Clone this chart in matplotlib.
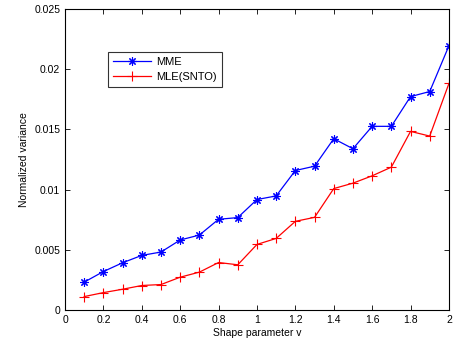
import numpy as np
import matplotlib
matplotlib.use("Agg")
import matplotlib.pyplot as plt

plt.rcParams['font.family'] = ['Liberation Sans', 'DejaVu Sans']

shape_v = [0.1, 0.2, 0.3, 0.4, 0.5, 0.6, 0.7, 0.8, 0.9, 1.0,
           1.1, 1.2, 1.3, 1.4, 1.5, 1.6, 1.7, 1.8, 1.9, 2.0]
mme = [0.00231, 0.00319, 0.00392, 0.00453, 0.00481, 0.00581, 0.00622, 0.00753, 0.00767, 0.00917,
       0.00947, 0.01158, 0.01194, 0.01422, 0.01339, 0.01525, 0.01525, 0.01772, 0.01814, 0.02194]
mle = [0.00111, 0.00144, 0.00172, 0.00203, 0.00211, 0.00272, 0.00314, 0.00394, 0.00375, 0.00544,
       0.00594, 0.00736, 0.00769, 0.01008, 0.01053, 0.01114, 0.01186, 0.01483, 0.01444, 0.01881]
xticks = [0, 0.2, 0.4, 0.6, 0.8, 1, 1.2, 1.4, 1.6, 1.8, 2]
xticklabels = ['0', '0.2', '0.4', '0.6', '0.8', '1', '1.2', '1.4', '1.6', '1.8', '2']
yticks = [0, 0.005, 0.01, 0.015, 0.02, 0.025]
yticklabels = ['0', '0.005', '0.01', '0.015', '0.02', '0.025']

fig = plt.figure(figsize=(4.53, 3.44), dpi=100)
ax = fig.add_axes([0.1435, 0.099, 0.8475, 0.875])

# matlab style asterisk: 8 spokes
ax.plot(shape_v, mme, color='#0000ff', marker=(8, 2, 0), markersize=6, markeredgewidth=0.8,
        linewidth=0.9, label='MME')
ax.plot(shape_v, mle, color='#ff0000', marker='+', markersize=7, markeredgewidth=0.8,
        linewidth=0.9, label='MLE(SNTO)')

ax.set_xlim(0, 2)
ax.set_ylim(0, 0.025)
ax.set_xticks(xticks)
ax.set_xticklabels(xticklabels)
ax.set_yticks(yticks)
ax.set_yticklabels(yticklabels)
ax.tick_params(direction='in', top=True, right=True, length=3.5, width=0.6, labelsize=7.5)
for s in ax.spines.values():
    s.set_linewidth(0.8)

ax.set_xlabel('Shape parameter v', fontsize=7.5, labelpad=2)
ax.set_ylabel('Normalized variance', fontsize=7.5, labelpad=4)

leg = ax.legend(loc='upper left', bbox_to_anchor=(0.112, 0.858), fontsize=8,
                frameon=True, fancybox=False, edgecolor='black', handlelength=3.4,
                borderpad=0.45, labelspacing=0.45, handletextpad=0.5, borderaxespad=0)
leg.get_frame().set_linewidth(0.8)

fig.savefig('out.png', dpi=100)
